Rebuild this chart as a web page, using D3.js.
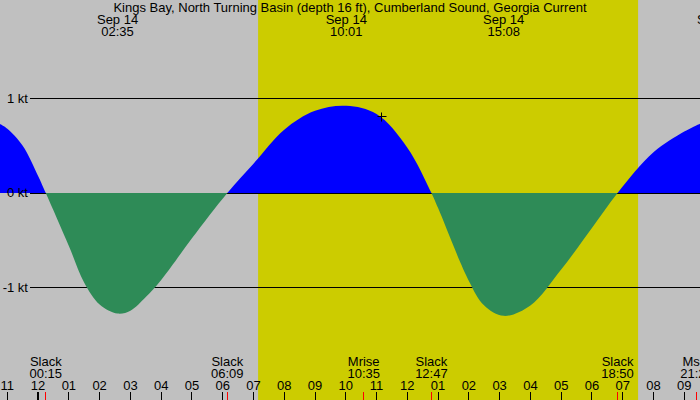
<!DOCTYPE html>
<html><head><meta charset="utf-8">
<script src="https://cdn.jsdelivr.net/npm/d3@7"></script>
<style>
body{margin:0;background:#fff;}
svg{display:block;}
text{font-family:"Liberation Sans",Arial,Helvetica,sans-serif;font-size:13px;fill:#000;}
</style>
</head><body>
<svg id="chart" width="700" height="400"></svg>
<script>
// ---------- data (hours from midnight Sep 14) ----------
const titleText = "Kings Bay, North Turning Basin (depth 16 ft), Cumberland Sound, Georgia Current";
const curveTimes  = [-1.24, -1, -0.5, 0, 0.25, 1, 1.5, 2, 2.583, 3, 3.5, 4, 5, 6.15, 7, 8, 9, 10.017, 11, 12, 12.783, 13, 14, 14.5, 15.133, 16, 17, 18, 18.833, 20, 21, 21.52];
const curveValues = [0.73, 0.68, 0.50, 0.18, 0, -0.56, -0.95, -1.18, -1.276, -1.245, -1.10, -0.92, -0.48, 0, 0.31, 0.67, 0.87, 0.923, 0.835, 0.48, 0, -0.16, -0.93, -1.19, -1.30, -1.19, -0.81, -0.37, 0, 0.43, 0.65, 0.735];
const levelValues = [1, 0, -1];
const levelLabels = ["1 kt", "0 kt", "-1 kt"];
const hourTicks  = [-1, 0, 1, 2, 3, 4, 5, 6, 7, 8, 9, 10, 11, 12, 13, 14, 15, 16, 17, 18, 19, 20, 21];
const hourLabels = ["11","12","01","02","03","04","05","06","07","08","09","10","11","12","01","02","03","04","05","06","07","08","09"];
const midnightTicks = [0];
const topEventTimes = [2.583, 10.017, 15.133, 22.08];
const topEventDates = ["Sep 14", "Sep 14", "Sep 14", "Sep 14"];
const topEventClock = ["02:35", "10:01", "15:08", "22:05"];
const bottomEventTimes = [0.25, 6.15, 10.583, 12.783, 18.833, 21.4];
const bottomEventNames = ["Slack", "Slack", "Mrise", "Slack", "Slack", "Mset"];
const bottomEventClock = ["00:15", "06:09", "10:35", "12:47", "18:50", "21:24"];
const daylight = [7.15, 19.5];
const markTime = 11.14, markValue = 0.81;

// ---------- scales ----------
const W = 700, H = 400;
const svg = d3.select("#chart");
const x = d3.scaleLinear().domain([-1.2382, 21.512]).range([0, W]);
const y = d3.scaleLinear().domain([-1, 1]).range([287.5, 98.5]);

// background
svg.append("rect").attr("x",0).attr("y",0).attr("width",W).attr("height",H).attr("fill","#c0c0c0");
svg.append("rect").attr("x",x(daylight[0])).attr("y",0)
  .attr("width",x(daylight[1]) - x(daylight[0])).attr("height",H).attr("fill","#cccc00");

// level lines
svg.append("g").selectAll("line").data(levelValues).join("line")
  .attr("x1",30).attr("x2",W)
  .attr("y1",d=>Math.round(y(d)-0.5)+0.5).attr("y2",d=>Math.round(y(d)-0.5)+0.5)
  .attr("stroke","#000").attr("stroke-width",1);

// current area
const pts = curveTimes.map((t,i)=>({t, v: curveValues[i]}));
const defs = svg.append("defs");
defs.append("clipPath").attr("id","above").append("rect")
  .attr("x",0).attr("y",0).attr("width",W).attr("height",y(0));
defs.append("clipPath").attr("id","below").append("rect")
  .attr("x",0).attr("y",y(0)).attr("width",W).attr("height",H - y(0));
const area = d3.area().x(d=>x(d.t)).y0(y(0)).y1(d=>y(d.v)).curve(d3.curveCatmullRom.alpha(0.5));
svg.append("path").datum(pts).attr("d",area).attr("fill","#0000ff").attr("clip-path","url(#above)");
svg.append("path").datum(pts).attr("d",area).attr("fill","#2e8b57").attr("clip-path","url(#below)");

// marker +
const mx = Math.round(x(markTime))+0.5, my = Math.round(y(markValue))+0.5;
svg.append("line").attr("x1",mx-4).attr("x2",mx+5).attr("y1",my).attr("y2",my).attr("stroke","#000");
svg.append("line").attr("x1",mx).attr("x2",mx).attr("y1",my-4).attr("y2",my+5).attr("stroke","#000");

// level labels
svg.append("g").selectAll("text").data(levelValues).join("text")
  .attr("x",28).attr("y",d=>y(d)+4).attr("text-anchor","end")
  .text((d,i)=>levelLabels[i]);

// title
svg.append("text").attr("x",W/2).attr("y",12).attr("text-anchor","middle").text(titleText);

// top events
const topG = svg.append("g").selectAll("g").data(topEventTimes).join("g");
topG.append("text").attr("x",d=>x(d)).attr("y",24).attr("text-anchor","middle").text((d,i)=>topEventDates[i]);
topG.append("text").attr("x",d=>x(d)).attr("y",36).attr("text-anchor","middle").text((d,i)=>topEventClock[i]);

// bottom events
const botG = svg.append("g").selectAll("g").data(bottomEventTimes).join("g");
botG.append("text").attr("x",d=>x(d)).attr("y",366).attr("text-anchor","middle").text((d,i)=>bottomEventNames[i]);
botG.append("text").attr("x",d=>x(d)).attr("y",378).attr("text-anchor","middle").text((d,i)=>bottomEventClock[i]);

// hour labels and ticks
svg.append("g").selectAll("text").data(hourTicks).join("text")
  .attr("x",d=>x(d)).attr("y",390).attr("text-anchor","middle").text((d,i)=>hourLabels[i]);
svg.append("g").selectAll("line").data(hourTicks).join("line")
  .attr("x1",d=>Math.floor(x(d))+0.5).attr("x2",d=>Math.floor(x(d))+0.5)
  .attr("y1",392).attr("y2",H).attr("stroke","#000");
svg.append("g").selectAll("rect").data(midnightTicks).join("rect")
  .attr("x",d=>Math.floor(x(d))-1).attr("y",392).attr("width",2).attr("height",H-392).attr("fill","#000");
svg.append("g").selectAll("line").data(bottomEventTimes).join("line")
  .attr("x1",d=>Math.floor(x(d))+0.5).attr("x2",d=>Math.floor(x(d))+0.5)
  .attr("y1",392).attr("y2",H).attr("stroke","#ff0000");
</script>
</body></html>
